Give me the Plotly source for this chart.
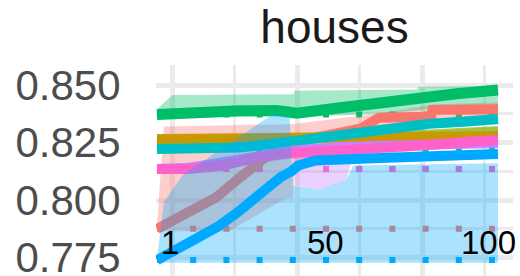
import plotly.graph_objects as go

# ---------------- data ----------------
title_text = "houses"
y_tick_vals = [0.775, 0.800, 0.825, 0.850]
y_tick_text = ["0.775", "0.800", "0.825", "0.850"]
x_label_vals = [1, 50, 100]
x_label_text = ["1", "50", "100"]

red_x = [1, 8.5, 18, 25, 32, 40, 50, 60, 65.5, 80.5, 81, 100]
red_y = [0.7875, 0.7935, 0.8010, 0.8097, 0.8180, 0.8250, 0.8280, 0.8310, 0.8358, 0.8362, 0.8392, 0.8395]
red_lo_x = [1, 22, 38, 40.5, 41, 50, 65, 81, 100]
red_lo_y = [0.7865, 0.7865, 0.8005, 0.8010, 0.8150, 0.8230, 0.8300, 0.8350, 0.8365]
red_hi_x = [1, 3, 40, 65, 81, 100]
red_hi_y = [0.7890, 0.8320, 0.8330, 0.8375, 0.8415, 0.8425]

orange_x = [1, 20, 40, 60, 80, 100]
orange_y = [0.8265, 0.8265, 0.8268, 0.8272, 0.8275, 0.8278]
orange_lo_y = [0.8252, 0.8252, 0.8254, 0.8258, 0.8260, 0.8262]
orange_hi_y = [0.8278, 0.8280, 0.8284, 0.8288, 0.8292, 0.8296]

olive_x = [1, 20, 40, 60, 80, 100]
olive_y = [0.8262, 0.8263, 0.8268, 0.8275, 0.8285, 0.8300]
olive_lo_y = [0.8250, 0.8250, 0.8254, 0.8260, 0.8268, 0.8282]
olive_hi_y = [0.8275, 0.8277, 0.8282, 0.8290, 0.8302, 0.8318]

green_x = [1, 13.5, 25, 35.8, 41.6, 53, 63, 72, 78, 88, 100]
green_y = [0.8372, 0.8383, 0.8388, 0.8389, 0.8378, 0.8399, 0.8420, 0.8432, 0.8447, 0.8462, 0.8478]
green_lo_x = [1, 35, 42, 55, 70, 80, 100]
green_lo_y = [0.8355, 0.8365, 0.8360, 0.8368, 0.8380, 0.8395, 0.8405]
green_hi_x = [1, 5.5, 40.5, 41, 76.5, 77, 100]
green_hi_y = [0.8395, 0.8457, 0.8460, 0.8475, 0.8480, 0.8493, 0.8497]

teal_x = [1, 14, 25, 35, 45, 55, 65, 75, 80, 90, 100]
teal_y = [0.8222, 0.8222, 0.8228, 0.8245, 0.8265, 0.8285, 0.8305, 0.8320, 0.8332, 0.8340, 0.8352]
teal_lo_y = [0.8210, 0.8210, 0.8214, 0.8228, 0.8246, 0.8265, 0.8285, 0.8300, 0.8312, 0.8320, 0.8330]
teal_hi_y = [0.8234, 0.8235, 0.8242, 0.8262, 0.8284, 0.8305, 0.8325, 0.8340, 0.8352, 0.8362, 0.8375]

purple_x = [1, 10, 25, 40, 55, 75, 100]
purple_y = [0.8135, 0.8140, 0.8175, 0.8215, 0.8232, 0.8242, 0.8248]
purple_lo_x = [1, 10, 25, 40.5, 41, 48, 52, 56, 58, 75, 100]
purple_lo_y = [0.8118, 0.8120, 0.8150, 0.8190, 0.8063, 0.8045, 0.8065, 0.8088, 0.8205, 0.8220, 0.8228]
purple_hi_x = [1, 10, 25, 40, 55, 75, 100]
purple_hi_y = [0.8152, 0.8160, 0.8200, 0.8240, 0.8255, 0.8265, 0.8270]

pink_x = [1, 10, 20, 30, 40, 50, 60, 75, 100]
pink_y = [0.8135, 0.8135, 0.8150, 0.8185, 0.8205, 0.8212, 0.8218, 0.8235, 0.8262]
pink_lo_y = [0.8115, 0.8115, 0.8128, 0.8160, 0.8180, 0.8188, 0.8195, 0.8212, 0.8238]
pink_hi_y = [0.8155, 0.8158, 0.8175, 0.8210, 0.8230, 0.8236, 0.8242, 0.8260, 0.8285]

blue_x = [1, 8.5, 18.5, 24.5, 32, 37, 40, 42, 47, 55, 70, 85, 100]
blue_y = [0.7739, 0.7804, 0.7883, 0.7948, 0.8043, 0.8101, 0.8125, 0.8150, 0.8172, 0.8180, 0.8185, 0.8193, 0.8200]
blue_lo_x = [1, 100]
blue_lo_y = [0.7728, 0.7728]
blue_hi_x = [1, 3, 8.5, 35, 39.5, 40.5, 48, 52, 56, 58, 100]
blue_hi_y = [0.7745, 0.7990, 0.8110, 0.8377, 0.8365, 0.8063, 0.8045, 0.8065, 0.8088, 0.8150, 0.8160]

# grid positions (in x data units)
x_grid_major = [5.36, 41.65, 77.94]
x_grid_minor = [23.5, 59.8, 96.1]
y_grid_minor = [0.7875, 0.8125, 0.8375]

RED, ORANGE, OLIVE, GREEN = "#F8766D", "#CD9600", "#7CAE00", "#00BE67"
TEAL, BLUE, PURPLE, PINK = "#00BFC4", "#00A9FF", "#C77CFF", "#FF61CC"


def rgba(h, a):
    h = h.lstrip("#")
    r, g, b = int(h[0:2], 16), int(h[2:4], 16), int(h[4:6], 16)
    return f"rgba({r},{g},{b},{a})"


others = [
    dict(c=RED, x=red_x, y=red_y, lx=red_lo_x, ly=red_lo_y, hx=red_hi_x, hy=red_hi_y, a=1.0),
    dict(c=OLIVE, x=olive_x, y=olive_y, lx=olive_x, ly=olive_lo_y, hx=olive_x, hy=olive_hi_y, a=0.6),
    dict(c=ORANGE, x=orange_x, y=orange_y, lx=orange_x, ly=orange_lo_y, hx=orange_x, hy=orange_hi_y, a=0.9),
    dict(c=GREEN, x=green_x, y=green_y, lx=green_lo_x, ly=green_lo_y, hx=green_hi_x, hy=green_hi_y, a=1.0),
    dict(c=TEAL, x=teal_x, y=teal_y, lx=teal_x, ly=teal_lo_y, hx=teal_x, hy=teal_hi_y, a=1.0),
    dict(c=PURPLE, x=purple_x, y=purple_y, lx=purple_lo_x, ly=purple_lo_y, hx=purple_hi_x, hy=purple_hi_y, a=0.9),
    dict(c=PINK, x=pink_x, y=pink_y, lx=pink_x, ly=pink_lo_y, hx=pink_x, hy=pink_hi_y, a=1.0),
]
blue = dict(c=BLUE, x=blue_x, y=blue_y, lx=blue_lo_x, ly=blue_lo_y, hx=blue_hi_x, hy=blue_hi_y, a=1.0)
allser = others + [blue]

fig = go.Figure()

# dotted baselines at each series' starting value
for s in allser:
    fig.add_trace(go.Scatter(x=[s["x"][0], s["x"][-1]], y=[s["y"][0], s["y"][0]], mode="lines",
                             line=dict(color=s["c"], width=6, dash="6px,27.2px"),
                             hoverinfo="skip", showlegend=False))


def band(s, a=0.35):
    return go.Scatter(x=list(s["lx"]) + list(s["hx"])[::-1], y=list(s["ly"]) + list(s["hy"])[::-1],
                      fill="toself", fillcolor=rgba(s["c"], a), line=dict(width=0),
                      mode="lines", hoverinfo="skip", showlegend=False)


def line(s, w=10):
    return go.Scatter(x=s["x"], y=s["y"], mode="lines", line=dict(color=rgba(s["c"], s["a"]), width=w),
                      hoverinfo="skip", showlegend=False)


for s in others:
    fig.add_trace(band(s))
for s in others:
    fig.add_trace(line(s, 11 if s["c"] == GREEN else 10))
fig.add_trace(band(blue, 0.33))
fig.add_trace(line(blue, 10))

anchors = ["center", "center", "right"]
shifts = [13, 0, 20]
for v, t, an, sh in zip(x_label_vals, x_label_text, anchors, shifts):
    fig.add_annotation(x=v, y=0.7817, xref="x", yref="y", text=t, showarrow=False,
                       xanchor=an, yanchor="middle", xshift=sh,
                       font=dict(family="Liberation Sans, Arial", size=33, color="#000000"))

GRID = "#EBEBEB"
fig.update_layout(
    width=520, height=276,
    margin=dict(l=156, r=7, t=65, b=0),
    paper_bgcolor="white", plot_bgcolor="white",
    title=dict(text=title_text, x=0.5, xref="paper", xanchor="center",
               y=1 - 27 / 276, yref="container", yanchor="middle",
               font=dict(family="Liberation Sans, Arial", size=46, color="#1A1A1A")),
    xaxis=dict(range=[0.71, 104.36], tickvals=x_grid_major, showticklabels=False,
               showgrid=True, gridcolor=GRID, gridwidth=5, zeroline=False, showline=False,
               ticks="", automargin=False,
               minor=dict(tickvals=x_grid_minor, showgrid=True, gridcolor=GRID, gridwidth=2.5, ticks="")),
    yaxis=dict(range=[0.767, 0.8587], tickvals=y_tick_vals, ticktext=y_tick_text,
               tickfont=dict(family="Liberation Sans, Arial", size=42, color="#4D4D4D"),
               ticks="outside", ticklen=26, tickcolor="rgba(0,0,0,0)",
               ticklabeloverflow="allow", automargin=False,
               showgrid=True, gridcolor=GRID, gridwidth=5, zeroline=False, showline=False,
               minor=dict(tickvals=y_grid_minor, showgrid=True, gridcolor=GRID, gridwidth=2.5, ticks="")),
)

fig.write_html("out.html", config={"displayModeBar": False},
               post_script="document.body.style.margin='0';document.body.style.padding='0';")
